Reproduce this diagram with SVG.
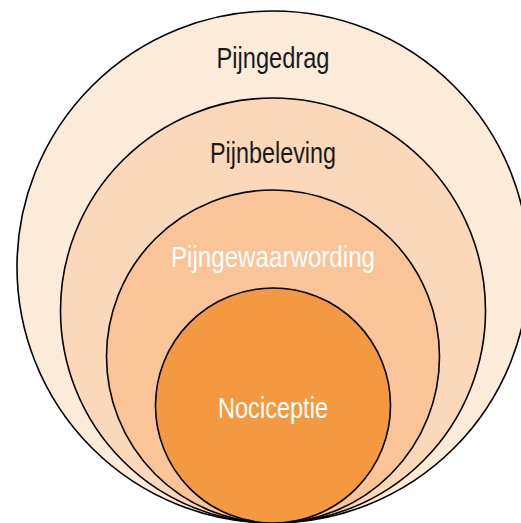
<svg xmlns="http://www.w3.org/2000/svg" width="521" height="523" viewBox="0 0 521 523">
<style>
.ring{stroke:#000;stroke-width:1.6}
.lbl{font-family:"Liberation Sans",Arial,sans-serif;font-size:29px;text-anchor:middle}
.dark{fill:#1a1a1a}
.light{fill:#ffffff}
</style>
<rect width="521" height="523" fill="#ffffff"/>
<g id="pijngedrag">
<circle class="ring" cx="273" cy="267" r="256" fill="#FDEBDA"/>
<text class="lbl dark" x="273" y="68" textLength="113" lengthAdjust="spacingAndGlyphs">Pijngedrag</text>
</g>
<g id="pijnbeleving">
<circle class="ring" cx="273" cy="310.5" r="212.5" fill="#FBD8B9"/>
<text class="lbl dark" x="273" y="163" textLength="126" lengthAdjust="spacingAndGlyphs">Pijnbeleving</text>
</g>
<g id="pijngewaarwording">
<circle class="ring" cx="273" cy="356.5" r="166.5" fill="#F9C598"/>
<text class="lbl light" x="273" y="266.5" textLength="204" lengthAdjust="spacingAndGlyphs">Pijngewaarwording</text>
</g>
<g id="nociceptie">
<circle class="ring" cx="273" cy="405.5" r="117.5" fill="#F29941"/>
<text class="lbl light" x="273" y="417.5" textLength="110" lengthAdjust="spacingAndGlyphs">Nociceptie</text>
</g>
<g id="connectors"/>
</svg>
